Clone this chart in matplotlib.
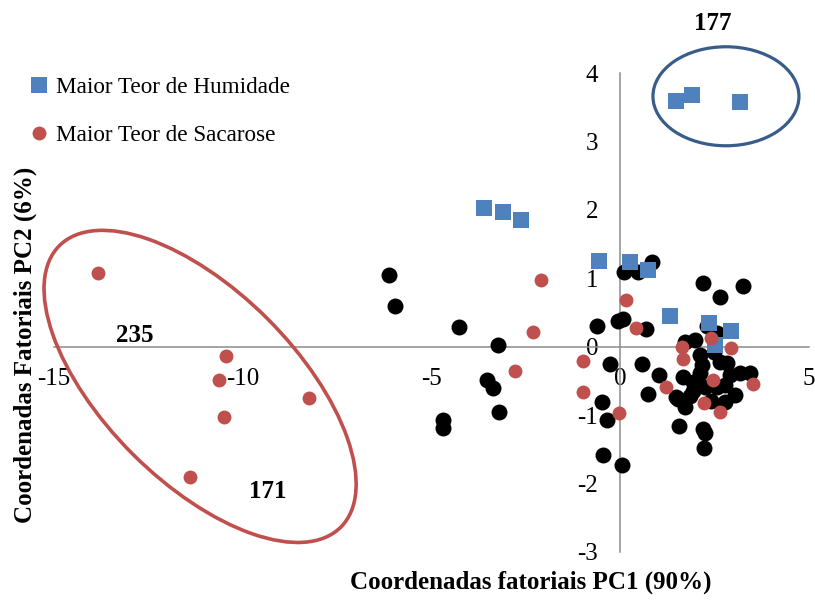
import matplotlib
matplotlib.use("Agg")
import matplotlib.pyplot as plt
from matplotlib.patches import Ellipse
from matplotlib.transforms import ScaledTranslation

plt.rcParams["font.family"] = ["Liberation Serif", "DejaVu Serif"]
plt.rcParams["axes.unicode_minus"] = False

# PCA factor scores (PC1, PC2)
other_pc1 = [-6.12, -5.97, -4.27, -3.24, -3.53, -3.38, -3.22, -4.70, -4.70,
             -0.62, -0.27, -0.48, -0.35, -0.46, 0.05, -0.06, 0.07, 0.10, 0.47,
             0.84, 0.68, 0.58, 1.03, 0.73, 1.48, 1.72, 1.56, 2.24, 2.22, 2.19,
             2.64, 3.25, 1.72, 1.98, 2.30, 2.56, 2.77, 2.16, 2.64, 2.82, 1.66,
             1.93, 2.11, 2.24, 2.56, 2.77, 2.91, 3.17, 3.44, 1.93, 1.53, 2.20,
             2.11, 2.49, 1.85, 2.41, 3.05]
other_pc2 = [1.05, 0.59, 0.29, 0.02, -0.49, -0.60, -0.95, -1.07, -1.19,
             0.30, -0.25, -0.81, -1.07, -1.58, -1.73, 0.37, 0.40, 1.09, 1.09,
             1.24, 0.26, -0.25, -0.41, -0.69, -0.74, -0.88, -1.16, -1.26, -1.48,
             0.93, 0.73, 0.89, 0.07, 0.10, 0.30, 0.20, -0.81, -0.27, -0.22,
             -0.24, -0.44, -0.52, -0.38, -0.59, -0.59, -0.56, -0.41, -0.38,
             -0.38, -0.64, -0.76, -1.20, -0.12, -0.08, -0.72, -0.79, -0.71]

humidade_pc1 = [1.48, 1.90, 3.17, -3.60, -3.10, -2.63, -0.56, 0.26, 0.73,
                1.32, 2.35, 2.93, 2.51]
humidade_pc2 = [3.59, 3.68, 3.58, 2.02, 1.97, 1.85, 1.25, 1.24, 1.12,
                0.45, 0.35, 0.23, 0.02]

sacarose_pc1 = [-13.83, -10.44, -10.62, -10.49, -8.24, -11.39, -2.10, -2.31,
                -2.79, -0.99, -0.99, 0.15, 0.42, -0.03, 1.64, 1.66, 1.21, 2.40,
                2.93, 2.46, 2.23, 2.63, 3.52]
sacarose_pc2 = [1.07, -0.14, -0.49, -1.03, -0.75, -1.90, 0.97, 0.22, -0.35,
                -0.21, -0.66, 0.68, 0.27, -0.97, 0.00, -0.18, -0.59, 0.13,
                -0.02, -0.49, -0.82, -0.95, -0.54]

x_ticks = [-15, -10, -5, 0, 5]
y_ticks = [-3, -2, -1, 0, 1, 2, 3, 4]

group_labels = ["177", "235", "171"]
group_label_xy = [(2.46, 4.72), (-12.86, 0.17), (-9.33, -2.12)]

W, H = 815, 601
fig = plt.figure(figsize=(W / 100, H / 100), dpi=100)
ax = fig.add_axes([54 / W, 1 - 552 / H, 755 / W, 479 / H])
ax.set_xlim(-15, 5)
ax.set_ylim(-3, 4)

axis_grey = "#8C8C8C"
for side in ("top", "right"):
    ax.spines[side].set_visible(False)
ax.spines["left"].set_position(("data", 0))
ax.spines["bottom"].set_position(("data", 0))
for side in ("left", "bottom"):
    ax.spines[side].set_color(axis_grey)
    ax.spines[side].set_linewidth(1.1)

ax.set_xticks(x_ticks)
ax.set_yticks(y_ticks)
ax.tick_params(axis="x", length=0, pad=15, labelsize=18)
ax.tick_params(axis="y", length=0, pad=16, labelsize=18)

ax.plot(other_pc1, other_pc2, "o", color="black", ms=11.5, mew=0,
        clip_on=False, zorder=3)
ax.plot(humidade_pc1, humidade_pc2, "s", color="#4F81BD", ms=11, mew=0,
        clip_on=False, zorder=4, label="Maior Teor de Humidade")
ax.plot(sacarose_pc1, sacarose_pc2, "o", color="#C0504D", ms=10, mew=0,
        clip_on=False, zorder=5, label="Maior Teor de Sacarose")

# Group outlines, sized in inches around a data-space centre
def outline(cx, cy, w_in, h_in, angle, color, lw):
    tr = fig.dpi_scale_trans + ScaledTranslation(cx, cy, ax.transData)
    e = Ellipse((0, 0), w_in, h_in, angle=angle, transform=tr, fill=False,
                edgecolor=color, linewidth=lw, clip_on=False, zorder=6)
    fig.add_artist(e)

outline(-11.13, -0.58, 3.98, 1.91, -45, "#C0504D", 2.6)
outline(2.80, 3.66, 1.46, 0.99, 0, "#385D8A", 2.3)

for txt, (gx, gy) in zip(group_labels, group_label_xy):
    ax.text(gx, gy, txt, ha="center", va="center", fontsize=18,
            fontweight="bold", clip_on=False)

fig.text(531 / W, 1 - 582 / H, "Coordenadas fatoriais PC1 (90%)",
         ha="center", va="center", fontsize=18, fontweight="bold")
fig.text(25 / W, 1 - 345 / H, "Coordenadas Fatoriais PC2 (6%)",
         ha="center", va="center", rotation=90, fontsize=18, fontweight="bold")

fig.legend(loc="upper left", bbox_to_anchor=(30 / W, 1 - 77 / H),
           frameon=False, fontsize=16.7, handlelength=0.8, handletextpad=0.3,
           labelspacing=1.15, borderpad=0, borderaxespad=0, markerscale=1.0)

fig.savefig("out.png", dpi=100)
